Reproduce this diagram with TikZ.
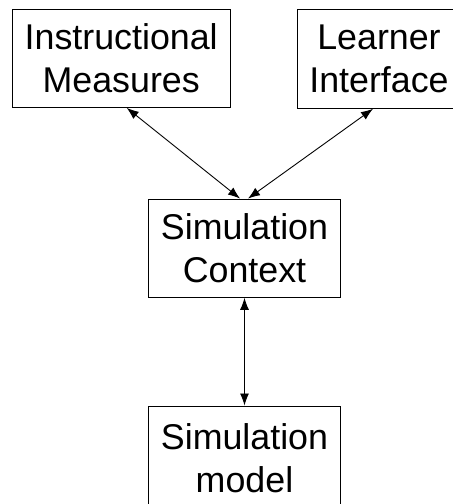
\documentclass[tikz,border=0pt]{standalone}
\usepackage{fontspec}
\setmainfont{Liberation Sans}
\usetikzlibrary{arrows.meta}
\tikzset{block/.style={shape=rectangle, draw=black, line width=1pt,
    align=center, inner sep=0pt, font=\fontsize{35.8}{42.5}\selectfont}}
\tikzset{link/.style={{Latex[length=12pt,width=9pt]}-{Latex[length=12pt,width=9pt]}, line width=0.9pt}}
\begin{document}
\begin{tikzpicture}[x=1pt,y=-1pt]
\useasboundingbox (0,0) rectangle (453,504);

                    \node[block, minimum width=217.7pt, minimum height=98.3pt] (im) at (121.2,58.2) {Instructional\\Measures};
                    \node[block, minimum width=163.4pt, minimum height=99pt] (li) at (379,58.8) {Learner\\Interface};
                    \node[block, minimum width=192.4pt, minimum height=98.3pt] (sc) at (244.5,248.2) {Simulation\\Context};
                    \node[block, minimum width=192.4pt, minimum height=104.4pt] (sm) at (244.5,458.2) {Simulation\\model};

                    \draw[link] ([xshift=5.5pt]im.south) -- ([xshift=-4.5pt]sc.north);
                    \draw[link] ([xshift=-6pt]li.south) -- ([xshift=3.5pt]sc.north);
                    \draw[link] (sc) -- (sm);

\end{tikzpicture}
\end{document}
